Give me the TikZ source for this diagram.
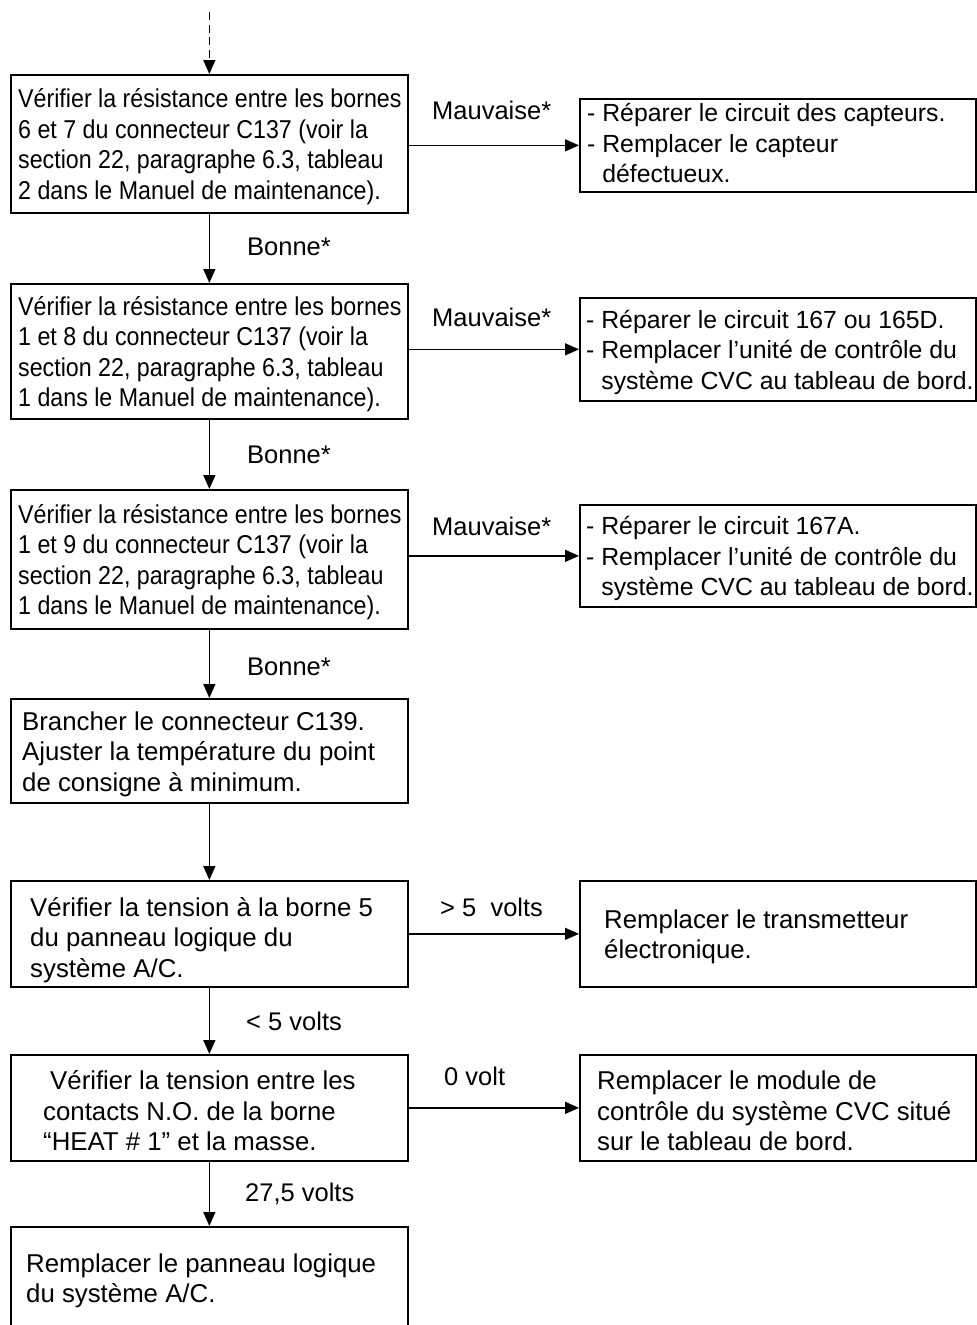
\documentclass[tikz,border=0pt]{standalone}
\usepackage{fontspec}
\setmainfont{Liberation Sans}
\newfontfamily\narrowsans[FakeStretch=0.9]{Liberation Sans}
\usetikzlibrary{arrows.meta}
\begin{document}
\begin{tikzpicture}[x=1pt,y=-1pt,
  every node/.style={font=\fontsize{25.8}{30.5}\selectfont},
  stepbox/.style={draw, line width=1.7pt, anchor=north west, inner sep=0pt},
  leftbox/.style={stepbox, minimum width=397pt},
  rightbox/.style={stepbox, minimum width=396pt},
  txt/.style={anchor=west, align=left, inner sep=0pt, yshift=-3pt},
  narrowtxt/.style={txt, font=\narrowsans\fontsize{25.8}{30.5}\selectfont},
  righttxt/.style={txt, font=\fontsize{24.8}{30.5}\selectfont},
  link/.style={line width=1.5pt, -{Triangle[length=14pt,width=12pt]}},
  lbl/.style={inner sep=0pt, anchor=base west, font=\fontsize{25.5}{30.5}\selectfont}]
\useasboundingbox (0,0) rectangle (977,1325);
\clip (0,0) rectangle (977,1325);

% left column of checks
\node[leftbox, minimum height=138pt] (b1) at (10,74) {};
\node[leftbox, minimum height=135pt] (b2) at (10,283) {};
\node[leftbox, minimum height=139pt] (b3) at (10,489) {};
\node[leftbox, minimum height=104pt] (b4) at (10,698) {};
\node[leftbox, minimum height=106pt] (b5) at (10,880) {};
\node[leftbox, minimum height=106pt] (b6) at (10,1054) {};
\node[leftbox, minimum height=102pt] (b7) at (10,1226) {};

\node[narrowtxt] (t1) at ([xshift=8pt]b1.west)
  {Vérifier la résistance entre les bornes\\6 et 7 du connecteur C137 (voir la\\section 22, paragraphe 6.3, tableau\\2 dans le Manuel de maintenance).};
\node[narrowtxt] (t2) at ([xshift=8pt]b2.west)
  {Vérifier la résistance entre les bornes\\1 et 8 du connecteur C137 (voir la\\section 22, paragraphe 6.3, tableau\\1 dans le Manuel de maintenance).};
\node[narrowtxt] (t3) at ([xshift=8pt]b3.west)
  {Vérifier la résistance entre les bornes\\1 et 9 du connecteur C137 (voir la\\section 22, paragraphe 6.3, tableau\\1 dans le Manuel de maintenance).};
\node[txt] (t4) at ([xshift=12pt]b4.west)
  {Brancher le connecteur C139.\\Ajuster la température du point\\de consigne à minimum.};
\node[txt, yshift=-3pt] (t5) at ([xshift=20pt]b5.west)
  {Vérifier la tension à la borne 5\\du panneau logique du\\système A/C.};
\node[txt] (t6) at ([xshift=33pt]b6.west)
  {\hspace*{7pt}Vérifier la tension entre les\\contacts N.O. de la borne\\“HEAT \# 1” et la masse.};
\node[txt] (t7) at ([xshift=16pt]b7.west)
  {Remplacer le panneau logique\\du système A/C.};

% right column of remedies
\node[rightbox, minimum height=93pt] (r1) at (579,98) {};
\node[rightbox, minimum height=103pt] (r2) at (579,297) {};
\node[rightbox, minimum height=102pt] (r3) at (579,504) {};
\node[rightbox, minimum height=106pt] (r5) at (579,880) {};
\node[rightbox, minimum height=106pt] (r6) at (579,1054) {};

\node[righttxt, yshift=5pt] (s1) at ([xshift=8pt]r1.west)
  {- Réparer le circuit des capteurs.\\- Remplacer le capteur\\\hphantom{- }défectueux.};
\node[righttxt] (s2) at ([xshift=7pt]r2.west)
  {- Réparer le circuit 167 ou 165D.\\- Remplacer l’unité de contrôle du\\\hphantom{- }système CVC au tableau de bord.};
\node[righttxt] (s3) at ([xshift=7pt]r3.west)
  {- Réparer le circuit 167A.\\- Remplacer l’unité de contrôle du\\\hphantom{- }système CVC au tableau de bord.};
\node[txt] (s5) at ([xshift=25pt]r5.west)
  {Remplacer le transmetteur\\électronique.};
\node[txt] (s6) at ([xshift=18pt]r6.west)
  {Remplacer le module de\\contrôle du système CVC situé\\sur le tableau de bord.};

% entry arrow
\coordinate (entry) at (b1.north |- 0,12);
\draw[link, dash pattern=on 8pt off 4.5pt] (entry) -- (b1.north);

% vertical flow
\draw[link] (b1) -- (b2);
\draw[link] (b2) -- (b3);
\draw[link] (b3) -- (b4);
\draw[link] (b4) -- (b5);
\draw[link] (b5) -- (b6);
\draw[link] (b6) -- (b7);

% branches to the right
\draw[link] (r1.west -| b1.east) -- (r1.west);
\draw[link] (r2.west -| b2.east) -- (r2.west);
\draw[link] (r3.west -| b3.east) -- (r3.west);
\draw[link] (r5.west -| b5.east) -- (r5.west);
\draw[link] (r6.west -| b6.east) -- (r6.west);

% branch labels
\node[lbl] (m1) at (432,119) {Mauvaise*};
\node[lbl] (g1) at (247,255) {Bonne*};
\node[lbl] (m2) at (432,326) {Mauvaise*};
\node[lbl] (g2) at (247,463) {Bonne*};
\node[lbl] (m3) at (432,535) {Mauvaise*};
\node[lbl] (g3) at (247,675) {Bonne*};
\node[lbl] (v1) at (440,916) {> 5\ \ volts};
\node[lbl] (v2) at (246,1030) {< 5 volts};
\node[lbl] (v3) at (444,1085) {0 volt};
\node[lbl] (v4) at (245,1201) {27,5 volts};
\end{tikzpicture}
\end{document}
